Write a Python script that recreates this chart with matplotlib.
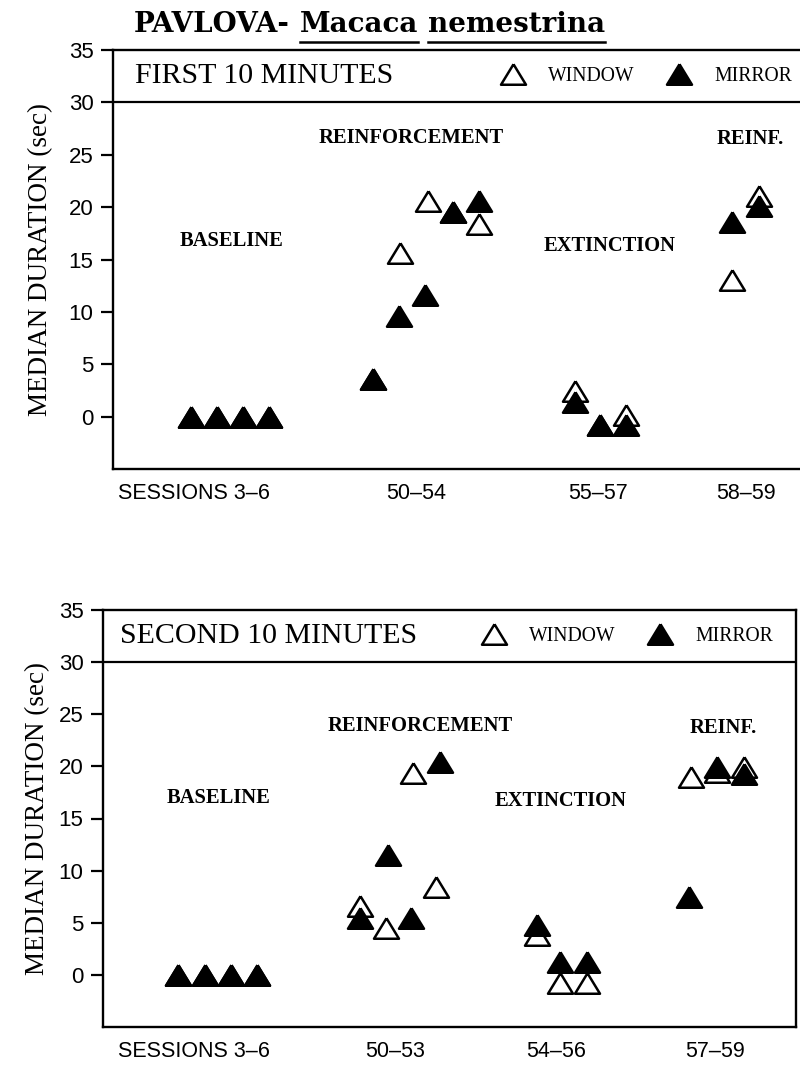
"""
Pavlova (Macaca nemestrina): median duration at window vs mirror,
first and second 10 minutes of each session.
"""
import matplotlib
matplotlib.use("Agg")
import matplotlib.pyplot as plt
from matplotlib.lines import Line2D

# ── data ────────────────────────────────────────────────────────────────────
# x = plotted session slot (groups separated by gaps), y = median duration (sec)
TOP_WIN_X = [0, 1, 2, 3, 6.98, 8.05, 9.1, 10.08, 11.06, 14.75, 15.73, 16.73, 20.79, 21.83]
TOP_WIN_Y = [0, 0, 0, 0, 3.6, 15.6, 20.6, 19.5, 18.4, 2.4, -0.8, 0.2, 13.0, 21.1]
TOP_MIR_X = [0, 1, 2, 3, 6.98, 8.0, 9.0, 10.08, 11.06, 14.75, 15.73, 16.73, 20.79, 21.83]
TOP_MIR_Y = [0, 0, 0, 0, 3.6, 9.6, 11.6, 19.5, 20.6, 1.4, -0.8, -0.8, 18.6, 20.1]

BOT_WIN_X = [0, 1, 2, 3, 6.95, 7.94, 8.95, 9.85, 13.7, 14.6, 15.6, 19.6, 20.6, 21.6]
BOT_WIN_Y = [0, 0, 0, 0, 6.6, 4.5, 19.4, 8.4, 3.8, -0.8, -0.8, 19.0, 19.5, 19.9]
BOT_MIR_X = [0, 1, 2, 3, 6.95, 8.0, 8.9, 10.0, 13.7, 14.6, 15.6, 19.5, 20.6, 21.6]
BOT_MIR_Y = [0, 0, 0, 0, 5.5, 11.5, 5.5, 20.4, 4.8, 1.25, 1.25, 7.5, 19.9, 19.3]

TOP_TICK_X = [0.1, 8.65, 15.65, 21.35]
TOP_TICK_LABELS = ["SESSIONS 3–6", "50–54", "55–57", "58–59"]
BOT_TICK_X = [0.6, 8.28, 14.43, 20.5]
BOT_TICK_LABELS = ["SESSIONS 3–6", "50–53", "54–56", "57–59"]

PHASES = ["BASELINE", "REINFORCEMENT", "EXTINCTION", "REINF."]
TOP_PHASE_XY = [(1.54, 16.8), (8.46, 26.6), (16.08, 16.3), (21.5, 26.5)]
BOT_PHASE_XY = [(1.53, 17.0), (9.24, 23.9), (14.6, 16.7), (20.8, 23.7)]

YTICKS = [0, 5, 10, 15, 20, 25, 30, 35]

# ── layout ──────────────────────────────────────────────────────────────────
W, H = 800, 1066
SERIF = "Liberation Serif"
SANS = "Liberation Sans"

fig = plt.figure(figsize=(W / 100, H / 100), dpi=100)


def panel(left, top, right, bottom, xlim):
    return fig.add_axes([left / W, 1 - bottom / H, (right - left) / W, (bottom - top) / H],
                        xlim=xlim, ylim=(-5, 35))


ax_top = panel(113, 50, 812, 469, (-3.0, 23.88))
ax_bot = panel(103, 610, 796, 1027, (-2.88, 23.6))

# slightly flattened triangle, like the hand-stamped symbols
TRI = [(0, 0.82), (-1, -0.82), (1, -0.82), (0, 0.82)]
tri_kw = dict(marker=TRI, markersize=18, markeredgewidth=1.8,
              markeredgecolor="black", linestyle="none")


def draw(ax, header, head_x, legend_x, win_x, win_y, mir_x, mir_y,
         tick_x, tick_labels, phase_xy, ylabel_x):
    ax.plot(win_x, win_y, markerfacecolor="white", zorder=3, **tri_kw)
    ax.plot(mir_x, mir_y, markerfacecolor="black", zorder=4, **tri_kw)

    for name, (px, py) in zip(PHASES, phase_xy):
        ax.text(px, py, name, ha="center", va="center", fontsize=14.8,
                fontweight="bold", family=SERIF)

    # header strip with title + legend
    ax.axhline(30, color="black", linewidth=1.6)
    ax.text(head_x, 32.5, header, transform=ax.get_yaxis_transform(),
            ha="left", va="center", fontsize=21.5, family=SERIF)
    handles = [Line2D([], [], markerfacecolor="white", **tri_kw),
               Line2D([], [], markerfacecolor="black", **tri_kw)]
    ax.legend(handles, ["WINDOW", "MIRROR"], ncol=2, frameon=False,
              loc="center right", bbox_to_anchor=(legend_x, 0.9375),
              prop={"family": SERIF, "size": 14.2}, handletextpad=1.2,
              columnspacing=1.65, handlelength=1.2, borderpad=0, borderaxespad=0)

    ax.set_yticks(YTICKS)
    ax.set_yticklabels([str(v) for v in YTICKS], family=SANS, fontsize=16)
    ax.set_xticks(tick_x)
    ax.set_xticklabels(tick_labels, family=SANS, fontsize=15.5)
    ax.tick_params(axis="x", length=0, pad=10)
    ax.tick_params(axis="y", direction="out", length=9, width=1.6, pad=5)
    ax.set_ylabel("MEDIAN DURATION (sec)", family=SERIF, fontsize=19.5)
    ax.yaxis.set_label_coords(ylabel_x, 0.5)
    ax.yaxis.label.set_va("center")
    for sp in ax.spines.values():
        sp.set_linewidth(1.7)


draw(ax_top, "FIRST 10 MINUTES", 0.031, 0.972, TOP_WIN_X, TOP_WIN_Y, TOP_MIR_X, TOP_MIR_Y,
     TOP_TICK_X, TOP_TICK_LABELS, TOP_PHASE_XY, -0.104)
draw(ax_bot, "SECOND 10 MINUTES", 0.025, 0.967, BOT_WIN_X, BOT_WIN_Y, BOT_MIR_X, BOT_MIR_Y,
     BOT_TICK_X, BOT_TICK_LABELS, BOT_PHASE_XY, -0.094)

# ── title with underlined species name ──────────────────────────────────────
title_kw = dict(fontsize=20, fontweight="bold", family="DejaVu Serif", va="baseline")
fig.text(134 / W, 1 - 32 / H, "PAVLOVA-", **title_kw)
genus = fig.text(300 / W, 1 - 32 / H, "Macaca", **title_kw)
species = fig.text(428 / W, 1 - 32 / H, "nemestrina", **title_kw)

fig.canvas.draw()
renderer = fig.canvas.get_renderer()
for t in (genus, species):
    bb = t.get_window_extent(renderer).transformed(fig.transFigure.inverted())
    y_line = 1 - 42 / H
    fig.add_artist(Line2D([bb.x0, bb.x1], [y_line, y_line], color="black",
                          linewidth=1.8, transform=fig.transFigure))

fig.savefig("out.png", dpi=100)
